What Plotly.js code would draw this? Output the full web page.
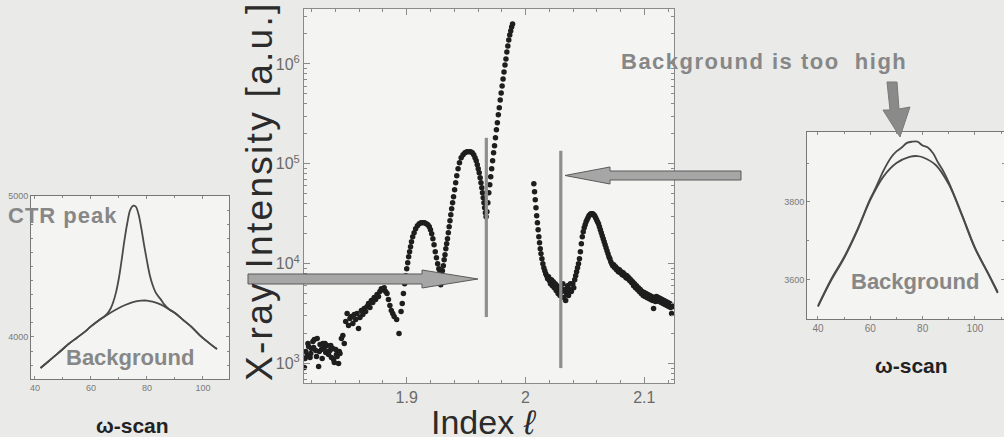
<!DOCTYPE html>
<html><head><meta charset="utf-8">
<script src="https://cdn.plot.ly/plotly-3.0.1.min.js"></script>
<style>html,body{margin:0;padding:0;background:#eaeae8;} #chart{width:1004px;height:437px;}</style>
</head><body><div id="chart"></div>
<script>
// ---------- main CTR scan (index l vs log10 intensity) ----------
const ell = [
 // low noisy region
 1.8138,1.8144,1.8150,1.8162,1.8168,1.8174,1.8186,1.8192,1.8198,1.8210,1.8216,1.8222,1.8234,1.8240,1.8246,1.8258,1.8264,1.8270,1.8282,1.8288,
 1.8294,1.8306,1.8312,1.8318,1.8330,1.8336,1.8342,1.8354,1.8360,1.8366,1.8378,1.8384,1.8390,1.8402,1.8408,1.8414,1.8426,1.8432,1.8438,1.8450,
 // first fringe
 1.8462,1.8474,1.8486,1.8498,1.8510,1.8522,1.8534,1.8546,1.8558,1.8570,1.8582,1.8594,1.8606,1.8618,1.8630,1.8642,1.8654,1.8666,1.8678,1.8690,
 1.8702,1.8714,1.8726,1.8738,1.8750,1.8762,1.8774,1.8786,1.8798,1.8810,1.8822,1.8834,1.8846,1.8858,1.8870,1.8882,1.8894,1.8915,1.8935,
 // second fringe
 1.8952,1.8962,1.8972,1.8982,1.8992,1.9000,1.9008,1.9016,1.9024,1.9032,1.9040,1.9050,1.9062,1.9075,1.9090,1.9105,1.9120,1.9135,1.9150,1.9165,
 1.9178,1.9190,1.9200,1.9210,1.9220,1.9230,1.9240,1.9250,1.9260,1.9270,1.9278,1.9286,
 // third fringe
 1.9300,1.9308,1.9315,1.9322,1.9329,1.9336,1.9343,1.9350,1.9357,1.9364,1.9371,1.9378,1.9386,1.9394,1.9403,1.9412,1.9421,1.9432,1.9444,1.9458,
 1.9474,1.9490,1.9506,1.9522,1.9538,1.9552,1.9564,1.9575,1.9585,1.9594,1.9602,1.9610,1.9618,1.9625,1.9632,1.9638,1.9644,1.9650,1.9656,1.9662,1.9668,
 // rise to Bragg peak
 1.9675,1.9683,1.9691,1.9699,1.9707,1.9715,1.9723,1.9731,1.9739,1.9747,1.9755,1.9763,1.9771,1.9779,1.9787,1.9795,1.9803,1.9811,1.9819,1.9827,
 1.9835,1.9843,1.9851,1.9859,1.9867,1.9875,1.9883,1.9891,
 // after Bragg peak, dip
 2.0070,2.0076,2.0082,2.0088,2.0094,2.0100,2.0106,2.0112,2.0118,2.0124,2.0130,2.0138,2.0146,2.0154,2.0162,2.0170,2.0178,2.0186,2.0194,2.0202,
 2.0210,2.0218,2.0226,2.0234,2.0242,2.0250,2.0258,2.0266,2.0274,2.0282,2.0290,2.0298,2.0306,2.0314,2.0322,2.0330,2.0338,2.0346,2.0354,2.0362,
 2.0370,2.0378,2.0386,
 // right fringe and tail
 2.0398,2.0406,2.0414,2.0422,2.0430,2.0438,2.0446,2.0454,2.0462,2.0470,
 2.0478,2.0486,2.0494,2.0502,2.0510,2.0518,2.0526,2.0534,2.0542,2.0550,
 2.0558,2.0566,2.0574,2.0582,2.0590,2.0598,2.0606,2.0614,2.0622,2.0630,
 2.0638,2.0646,2.0654,2.0662,2.0670,2.0678,2.0686,2.0694,2.0702,2.0710,
 2.0718,2.0726,2.0734,2.0742,2.0750,2.0758,2.0766,2.0774,2.0782,2.0790,
 2.0798,2.0806,2.0814,2.0822,2.0830,2.0838,2.0846,2.0854,2.0862,2.0870,
 2.0878,2.0886,2.0894,2.0902,2.0910,2.0918,2.0926,2.0934,2.0942,2.0950,
 2.0958,2.0966,2.0974,2.0982,2.0990,2.0998,2.1006,2.1014,2.1022,2.1030,
 2.1038,2.1046,2.1054,2.1062,2.1070,2.1078,2.1086,2.1094,2.1102,2.1110,
 2.1118,2.1126,2.1134,2.1142,2.1150,2.1158,2.1166,2.1174,2.1182,2.1190,
 2.1198,2.1206,2.1214,2.1222,2.1230,2.1238,2.1246
];
const logIntensity = [
 2.96,3.05,3.12,3.08,3.20,3.17,3.06,3.10,3.15,3.22,3.16,3.24,3.13,3.07,3.25,2.97,3.12,3.19,3.14,3.05,
 3.20,3.16,3.20,3.11,3.18,3.12,3.09,3.13,3.18,3.06,3.15,3.04,3.01,3.14,3.09,3.07,3.00,3.12,3.10,3.25,
 3.28,3.20,3.42,3.50,3.38,3.45,3.47,3.40,3.49,3.44,3.50,3.35,3.46,3.53,3.49,3.55,3.52,3.57,3.60,3.56,
 3.63,3.61,3.66,3.64,3.69,3.67,3.72,3.75,3.74,3.76,3.72,3.70,3.64,3.58,3.53,3.50,3.47,3.44,3.30,
 3.52,3.60,3.70,3.80,3.88,3.95,4.01,4.07,4.12,4.17,4.22,4.27,4.31,4.35,4.38,4.40,4.41,4.41,4.41,4.40,
 4.39,4.37,4.34,4.30,4.25,4.19,4.12,4.06,4.00,3.95,3.91,3.79,
 3.93,3.98,4.04,4.09,4.15,4.20,4.25,4.31,4.37,4.43,4.49,4.55,4.61,4.67,4.74,4.81,4.88,4.95,5.01,5.06,
 5.09,5.11,5.12,5.12,5.12,5.11,5.09,5.06,5.03,4.99,4.95,4.91,4.86,4.81,4.76,4.71,4.66,4.61,4.56,4.51,4.47,
 4.52,4.61,4.71,4.79,4.87,4.95,5.03,5.11,5.18,5.26,5.34,5.41,5.49,5.56,5.64,5.71,5.78,5.85,5.92,5.99,
 6.05,6.12,6.18,6.24,6.29,6.33,6.37,6.40,
 4.80,4.72,4.64,4.56,4.48,4.41,4.34,4.27,4.21,4.15,4.10,4.05,4.00,3.96,3.93,3.90,3.88,3.85,3.87,3.83,
 3.80,3.84,3.78,3.82,3.76,3.80,3.73,3.78,3.70,3.75,3.68,3.76,3.72,3.80,3.66,3.74,3.63,3.70,3.78,3.68,
 3.74,3.80,3.72,
 3.80,3.76,3.84,3.88,3.92,3.96,4.00,4.05,4.12,4.20,
 4.27,4.32,4.36,4.39,4.42,4.44,4.46,4.48,4.49,4.50,
 4.50,4.50,4.49,4.48,4.46,4.44,4.42,4.40,4.37,4.34,
 4.31,4.28,4.25,4.22,4.19,4.16,4.13,4.10,4.07,4.05,
 4.02,4.00,3.98,3.99,3.96,3.97,3.94,3.95,3.92,3.94,
 3.91,3.92,3.89,3.91,3.88,3.89,3.86,3.88,3.85,3.86,
 3.83,3.84,3.81,3.82,3.78,3.80,3.76,3.78,3.74,3.76,
 3.72,3.74,3.70,3.72,3.68,3.71,3.67,3.70,3.66,3.69,
 3.65,3.68,3.64,3.67,3.63,3.55,3.66,3.62,3.67,3.63,
 3.66,3.62,3.65,3.61,3.64,3.60,3.63,3.59,3.62,3.58,
 3.61,3.57,3.60,3.56,3.50,3.58,3.57
];
// grey marker lines in the main plot
const cutEll = [1.967, 2.0297];
const cutTop = [182000, 135000];
const cutBottom = [2920, 900];
const mainXTicks = [1.9, 2, 2.1];
const mainXText = ['1.9', '2', '2.1'];
const mainYTicks = [1e3, 1e4, 1e5, 1e6];
const mainYText = ['10<sup>3</sup>', '10<sup>4</sup>', '10<sup>5</sup>', '10<sup>6</sup>'];

// ---------- left inset: omega scan at CTR peak ----------
const omegaBgL = [42,45,48,50,52,55,58,60,63,66,69,72,75,78,80,82,85,88,90,93,96,99,102,105];
const bgL = [3780,3830,3880,3915,3950,3995,4040,4075,4120,4160,4195,4225,4248,4258,4258,4250,4230,4195,4170,4120,4070,4010,3960,3915];
const omegaPkL = [42,45,48,50,52,55,58,60,63,65,66,67,68,69,70,71,72,73,74,75,76,77,78,79,80,81,82,83,84,85,86,88,90,93,96,99,102,105];
const peakL = [3780,3830,3880,3915,3950,3995,4040,4075,4120,4150,4170,4200,4250,4320,4420,4550,4690,4810,4900,4930,4925,4870,4770,4650,4540,4440,4370,4320,4290,4265,4235,4195,4170,4120,4070,4010,3960,3915];

// ---------- right inset: omega scan off peak ----------
const omegaBgR = [40,45,50,55,60,65,70,75,78,80,85,90,95,100,105,108.7];
const bgR = [3530,3597,3655,3725,3805,3865,3900,3916,3918,3915,3895,3845,3765,3680,3615,3565];
const omegaUpR = [40,45,50,55,60,62,65,68,70,72,74,76,78,80,82,84,86,88,90,95,100,105,108.7];
const upR = [3532,3600,3658,3728,3808,3835,3880,3915,3930,3940,3952,3955,3955,3945,3940,3925,3900,3878,3850,3768,3682,3617,3568];
const insetXTicks = [40, 60, 80, 100];

// ---------- geometry helpers (pixel -> paper) ----------
const W = 1004, H = 437;
const fx = px => px / W;
const fy = py => 1 - py / H;
function pathOf(pts) {
  return 'M' + pts.map(p => fx(p[0]).toFixed(5) + ',' + fy(p[1]).toFixed(5)).join(' L') + ' Z';
}

const traces = [
  {x: ell, y: logIntensity.map(v => Math.pow(10, v)), mode: 'markers', type: 'scatter',
   marker: {size: 5.5, color: '#1e1e1e'}, xaxis: 'x', yaxis: 'y', hoverinfo: 'skip'},
  {x: [cutEll[0], cutEll[0]], y: [cutBottom[0], cutTop[0]], mode: 'lines', line: {color: '#8e8e8e', width: 3.2}, xaxis: 'x', yaxis: 'y'},
  {x: [cutEll[1], cutEll[1]], y: [cutBottom[1], cutTop[1]], mode: 'lines', line: {color: '#8e8e8e', width: 3.2}, xaxis: 'x', yaxis: 'y'},
  {x: omegaBgL, y: bgL, mode: 'lines', line: {color: '#4a4a4a', width: 1.8, shape: 'spline'}, xaxis: 'x2', yaxis: 'y2'},
  {x: omegaPkL, y: peakL, mode: 'lines', line: {color: '#4a4a4a', width: 1.8, shape: 'spline'}, xaxis: 'x2', yaxis: 'y2'},
  {x: omegaBgR, y: bgR, mode: 'lines', line: {color: '#4a4a4a', width: 1.8, shape: 'spline'}, xaxis: 'x3', yaxis: 'y3'},
  {x: omegaUpR, y: upR, mode: 'lines', line: {color: '#4a4a4a', width: 1.8, shape: 'spline'}, xaxis: 'x3', yaxis: 'y3'}
];

const axisBase = {showline: true, mirror: 'ticks', ticks: 'inside', showgrid: false, zeroline: false,
  linecolor: '#8a8a8a', tickcolor: '#8a8a8a', linewidth: 1};
const insetFont = {family: 'Liberation Sans, Arial, sans-serif', size: 9, color: '#7a7a7a'};
const greyBold = {family: 'Liberation Sans, Arial, sans-serif', size: 22, color: '#878787'};
const blackBold = {family: 'Liberation Sans, Arial, sans-serif', size: 21, color: '#222'};
function note(px, py, text, font, extra) {
  return Object.assign({xref: 'paper', yref: 'paper', x: fx(px), y: fy(py), xanchor: 'center', yanchor: 'middle',
    showarrow: false, text: text, font: font}, extra || {});
}

const layout = {
  width: W, height: H, margin: {l: 0, r: 0, t: 0, b: 0},
  paper_bgcolor: '#eaeae8', plot_bgcolor: '#f4f4f2', showlegend: false,
  xaxis: Object.assign({}, axisBase, {domain: [fx(304), fx(674)], range: [1.8135, 2.125], anchor: 'y',
    tickmode: 'array', tickvals: mainXTicks, ticktext: mainXText, ticklen: 6,
    tickfont: {family: 'Liberation Sans, Arial, sans-serif', size: 16, color: '#6a6a6a'},
    minor: {tickmode: 'linear', tick0: 1.9, dtick: 0.02, ticks: 'inside', ticklen: 3, tickcolor: '#8a8a8a'}}),
  yaxis: Object.assign({}, axisBase, {type: 'log', domain: [fy(383), fy(9)], range: [2.805, 6.55], anchor: 'x',
    tickmode: 'array', tickvals: mainYTicks, ticktext: mainYText, ticklen: 6,
    tickfont: {family: 'Liberation Sans, Arial, sans-serif', size: 16, color: '#6a6a6a'},
    minor: {dtick: 'D1', ticks: 'inside', ticklen: 3, tickcolor: '#8a8a8a'}}),
  xaxis2: Object.assign({}, axisBase, {domain: [fx(31), fx(229)], range: [38.6, 109.3], anchor: 'y2',
    tickmode: 'array', tickvals: insetXTicks, ticklen: 3, tickfont: insetFont, linecolor: '#777',
    minor: {tickmode: 'linear', tick0: 40, dtick: 10, ticks: 'inside', ticklen: 2}}),
  yaxis2: Object.assign({}, axisBase, {domain: [fy(379), fy(196)], range: [3702, 5000], anchor: 'x2',
    tickmode: 'array', tickvals: [4000, 5000], ticklen: 3, tickfont: insetFont, linecolor: '#777',
    minor: {tickmode: 'linear', tick0: 4000, dtick: 100, ticks: 'inside', ticklen: 2}}),
  xaxis3: Object.assign({}, axisBase, {domain: [fx(807), 1], range: [35.8, 111.1], anchor: 'y3',
    tickmode: 'array', tickvals: insetXTicks, ticklen: 3, tickfont: Object.assign({}, insetFont, {size: 10}), linecolor: '#777',
    minor: {tickmode: 'linear', tick0: 40, dtick: 10, ticks: 'inside', ticklen: 2}}),
  yaxis3: Object.assign({}, axisBase, {domain: [fy(319), fy(132)], range: [3498, 3980], anchor: 'x3',
    tickmode: 'array', tickvals: [3600, 3800], ticklen: 3, tickfont: insetFont, linecolor: '#777',
    minor: {tickmode: 'linear', tick0: 3600, dtick: 100, ticks: 'inside', ticklen: 2}}),
  shapes: [
    {type: 'path', xref: 'paper', yref: 'paper', layer: 'above', fillcolor: '#a6a6a6', line: {color: '#5a5a5a', width: 1},
     path: pathOf([[248,274],[422,274],[422,270],[478,279],[422,288],[422,284],[248,284]])},
    {type: 'path', xref: 'paper', yref: 'paper', layer: 'above', fillcolor: '#a6a6a6', line: {color: '#5a5a5a', width: 1},
     path: pathOf([[741,171],[610,171],[610,167],[565,175.5],[610,184],[610,180],[741,180]])},
    {type: 'path', xref: 'paper', yref: 'paper', layer: 'above', fillcolor: '#8a8a8a', line: {color: '#7a7a7a', width: 1},
     path: pathOf([[887,82],[897,82],[899,109],[910,107],[900,137],[883,110],[890,110]])}
  ],
  annotations: [
    note(259, 191, '<span style="letter-spacing:2.3px">X-ray Intensity [a.u.]</span>',
      {family: 'Liberation Sans, Arial', size: 37, color: '#2b2b2b'}, {textangle: -90}),
    note(484, 422, 'Index <i>ℓ</i>', {family: 'Liberation Sans, Arial', size: 34, color: '#2b2b2b'}),
    note(764, 62, '<span style="letter-spacing:1.5px"><b>Background is too  high</b></span>', greyBold),
    note(62, 215, '<span style="letter-spacing:1px"><b>CTR peak</b></span>', greyBold),
    note(130, 357, '<b>Background</b>', greyBold),
    note(915, 281, '<b>Background</b>', greyBold),
    note(132, 425, '<b>ω-scan</b>', blackBold),
    note(911, 365, '<b>ω-scan</b>', blackBold)
  ]
};

Plotly.newPlot('chart', traces, layout, {staticPlot: true, displayModeBar: false});
</script></body></html>
